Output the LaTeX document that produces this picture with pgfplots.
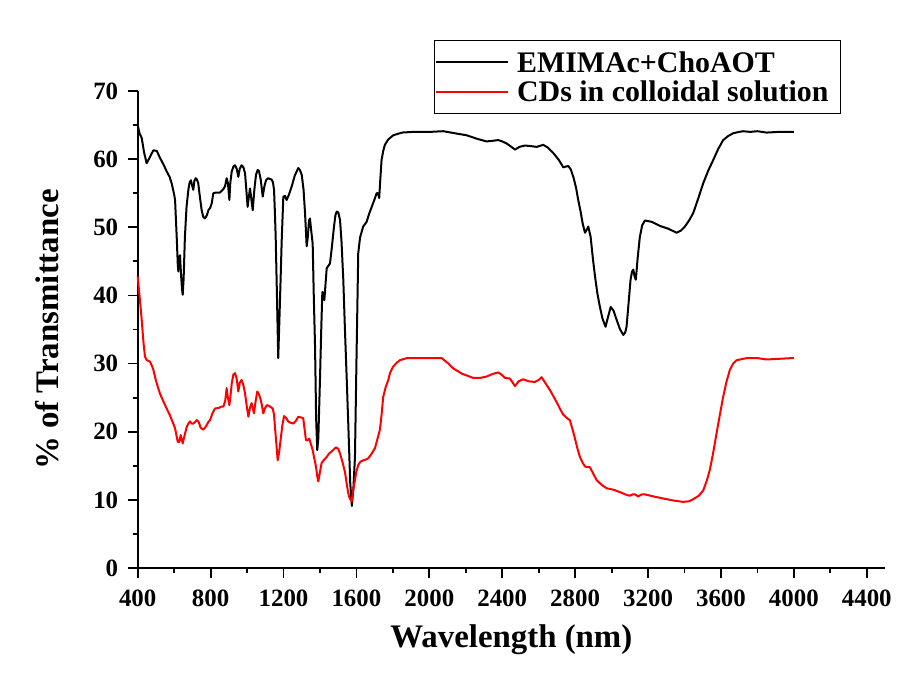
\documentclass[border=0pt]{standalone}
\usepackage{fontspec}
\setmainfont{Liberation Serif}
\usepackage{pgfplots}
\pgfplotsset{compat=1.18}
\pgfplotstableread{
x y
400 65.0
410 63.8
422 63.1
435 61.0
449 59.4
465 60.2
486 61.3
505 61.2
522 60.2
540 59.3
559 58.2
575 57.4
586 56.5
600 54.8
605 54.0
610 51.0
614 48.6
620 44.5
623 43.5
628 45.5
632 45.9
638 43.0
643 41.0
647 40.1
652 42.5
659 48.6
668 53.0
678 55.5
685 56.6
692 56.9
698 56.2
705 55.5
711 56.8
718 57.2
725 57.0
732 56.5
741 54.5
751 52.5
760 51.5
769 51.3
780 51.8
789 52.6
797 52.8
806 53.5
815 55.0
830 55.1
851 55.1
870 55.6
879 56.0
888 57.2
895 56.5
903 54.0
908 56.5
916 58.2
925 58.9
934 59.1
943 58.6
952 57.4
960 58.6
970 59.1
980 58.8
989 57.9
996 55.5
1003 53.0
1010 54.5
1016 55.7
1022 54.5
1031 52.5
1040 55.5
1049 57.7
1058 58.4
1065 58.3
1075 57.0
1086 54.5
1095 56.0
1104 56.9
1115 57.2
1125 57.1
1135 57.0
1142 56.6
1148 55.5
1153 52.0
1157 48.6
1164 40.0
1171 30.8
1177 36.0
1184 42.3
1190 48.0
1199 54.5
1208 54.6
1217 54.0
1230 54.8
1245 56.0
1262 57.6
1281 58.7
1290 58.4
1300 57.7
1310 55.5
1318 52.1
1323 49.5
1327 47.2
1333 48.5
1340 51.0
1345 51.3
1352 49.5
1360 47.6
1366 40.0
1373 32.5
1379 22.0
1385 17.3
1391 19.0
1400 27.6
1407 35.0
1413 40.5
1418 40.2
1424 39.3
1430 41.5
1437 44.0
1445 44.3
1455 44.7
1465 47.0
1477 50.1
1485 51.8
1492 52.3
1500 52.2
1510 51.1
1518 48.0
1528 42.3
1537 35.0
1547 27.6
1558 19.0
1566 12.5
1575 9.1
1584 12.0
1592 16.3
1600 30.0
1610 46.2
1620 48.5
1637 50.1
1656 50.8
1670 52.0
1684 53.0
1698 54.0
1711 55.0
1718 55.0
1725 54.3
1731 57.0
1738 59.9
1747 61.2
1756 62.1
1775 62.9
1802 63.5
1850 63.9
1912 64.0
2003 64.0
2076 64.1
2140 63.8
2205 63.5
2260 63.0
2314 62.6
2350 62.7
2378 62.8
2400 62.6
2424 62.3
2445 61.9
2470 61.4
2495 61.8
2525 62.0
2560 61.9
2589 61.8
2625 62.1
2650 61.7
2680 60.9
2710 59.9
2735 58.8
2762 59.0
2776 58.5
2790 57.4
2805 55.8
2817 54.0
2830 52.3
2841 50.6
2854 49.2
2865 49.7
2872 50.1
2885 48.6
2897 45.5
2909 42.8
2922 40.3
2936 38.3
2950 36.6
2967 35.4
2980 36.8
2995 38.3
3010 37.8
3028 36.4
3045 35.1
3064 34.2
3075 34.6
3082 35.4
3092 38.5
3104 42.3
3112 43.5
3119 43.8
3126 42.8
3133 42.3
3143 45.5
3155 48.6
3168 50.3
3183 51.0
3220 50.8
3265 50.2
3310 49.8
3357 49.2
3380 49.5
3402 50.1
3425 51.0
3448 52.1
3475 54.2
3503 56.5
3530 58.3
3558 59.9
3585 61.5
3612 62.8
3640 63.4
3667 63.8
3700 64.0
3722 64.1
3760 64.0
3800 64.1
3850 63.9
3920 64.0
3987 64.0
4000 64.0
}\blackdata
\pgfplotstableread{
x y
400 42.8
410 40.0
422 36.4
432 33.0
440 31.0
450 30.5
467 30.3
476 29.8
486 29.1
500 27.5
522 25.6
540 24.5
559 23.4
577 22.4
595 21.2
605 20.5
614 19.3
620 18.5
628 18.5
636 19.5
642 18.8
647 18.3
655 19.2
669 20.7
678 21.2
687 21.5
696 21.2
705 21.2
714 21.4
724 21.7
735 21.4
745 20.6
760 20.3
775 20.8
787 21.4
797 21.7
810 22.7
824 23.4
845 23.5
860 23.7
870 23.7
880 24.5
888 26.4
895 25.0
903 23.9
910 25.5
916 27.1
925 28.4
934 28.6
943 27.8
952 25.9
960 27.2
970 27.6
980 26.8
989 25.6
998 23.8
1007 22.2
1016 23.5
1025 24.2
1031 23.5
1038 22.7
1047 24.5
1056 25.9
1065 25.5
1075 24.7
1082 23.8
1089 22.7
1098 23.4
1108 23.9
1120 23.8
1141 23.4
1148 22.5
1153 20.7
1160 18.5
1168 15.8
1176 17.0
1184 18.8
1194 21.0
1203 22.3
1215 22.0
1226 21.5
1240 21.3
1254 21.2
1268 21.6
1281 22.2
1295 22.1
1308 22.0
1315 20.5
1323 18.8
1330 18.7
1341 19.0
1350 18.2
1360 17.3
1368 16.2
1378 14.9
1385 13.5
1391 12.7
1398 13.8
1409 15.4
1420 15.8
1437 16.3
1450 16.8
1464 17.1
1476 17.4
1488 17.7
1500 17.5
1510 16.8
1524 15.5
1537 14.1
1546 12.5
1555 11.0
1562 10.3
1568 10.0
1574 9.8
1580 11.0
1592 12.9
1600 14.2
1610 15.1
1622 15.6
1637 15.8
1650 15.9
1665 16.1
1684 16.8
1702 17.6
1716 19.0
1729 20.3
1738 22.5
1747 25.1
1760 26.5
1775 27.6
1784 28.6
1800 29.5
1820 30.1
1839 30.5
1876 30.8
1912 30.8
1990 30.8
2068 30.8
2100 30.1
2131 29.3
2180 28.5
2241 27.9
2280 27.9
2314 28.1
2350 28.5
2378 28.7
2395 28.4
2415 27.9
2442 27.8
2455 27.3
2470 26.7
2490 27.4
2515 27.7
2545 27.4
2579 27.3
2600 27.6
2616 28.0
2640 27.0
2662 26.1
2685 25.0
2707 23.9
2720 23.2
2735 22.5
2755 22.0
2771 21.7
2785 20.4
2799 19.0
2812 17.6
2826 16.3
2840 15.5
2854 14.9
2868 14.8
2881 14.8
2900 13.8
2918 12.9
2945 12.2
2973 11.7
3009 11.5
3050 11.1
3075 10.8
3100 10.6
3115 10.8
3128 10.8
3146 10.5
3165 10.8
3183 10.8
3230 10.5
3283 10.2
3340 9.9
3393 9.7
3425 9.8
3448 10.1
3478 10.6
3503 11.4
3522 12.8
3539 14.4
3558 17.0
3576 19.8
3594 22.5
3612 25.1
3630 27.3
3649 29.1
3667 30.0
3686 30.5
3741 30.8
3800 30.8
3850 30.6
3920 30.7
3987 30.8
4000 30.8
}\reddata
\begin{document}
\begin{tikzpicture}
\path[use as bounding box] (-137.7bp,-114bp) rectangle (779.3bp,568bp);
\begin{axis}[
  at={(0,0)}, anchor=south west,
  scale only axis, width=747.3bp, height=477bp,
  xmin=400, xmax=4500, ymin=0, ymax=70,
  axis lines*=left,
  axis line style={line width=1.8bp},
  xtick={400,800,...,4400},
  ytick={0,10,...,70},
  minor x tick num=1, minor y tick num=1,
  tick align=outside,
  major tick length=10bp, minor tick length=5bp,
  every tick/.style={black, line width=1.8bp},
  /pgf/number format/assume math mode=true,
  /pgf/number format/set thousands separator={},
  ticklabel style={font=\bfseries\fontsize{25}{25}\selectfont},
  xticklabel style={yshift=-8bp},
  yticklabel style={xshift=-6bp},
  xlabel={Wavelength (nm)},
  ylabel={\% of Transmittance},
  label style={font=\bfseries\fontsize{33}{33}\selectfont},
  xlabel style={at={(axis description cs:0.5,0)}, anchor=center, yshift=-72bp},
  ylabel style={at={([xshift=-91bp]axis description cs:0,0.5)}, anchor=center},
  legend style={at={(0.941,1.107)}, anchor=north east, draw=black, line width=0.8bp,
    fill=white, font=\bfseries\fontsize{30}{31}\selectfont,
    inner xsep=1bp, inner ysep=9bp, row sep=3bp, cells={anchor=west}},
  legend image code/.code={\draw[#1, line width=2bp] (0bp,0bp) -- (72bp,0bp);
    \path (78bp,0bp);},
  clip=false,
]
\addplot[black, line width=2bp, line join=round] table[x=x,y=y] {\blackdata};
\addlegendentry{EMIMAc+ChoAOT}
\addplot[red, line width=2bp, line join=round] table[x=x,y=y] {\reddata};
\addlegendentry{CDs in colloidal solution\hspace*{9bp}}
\end{axis}
\end{tikzpicture}
\end{document}
